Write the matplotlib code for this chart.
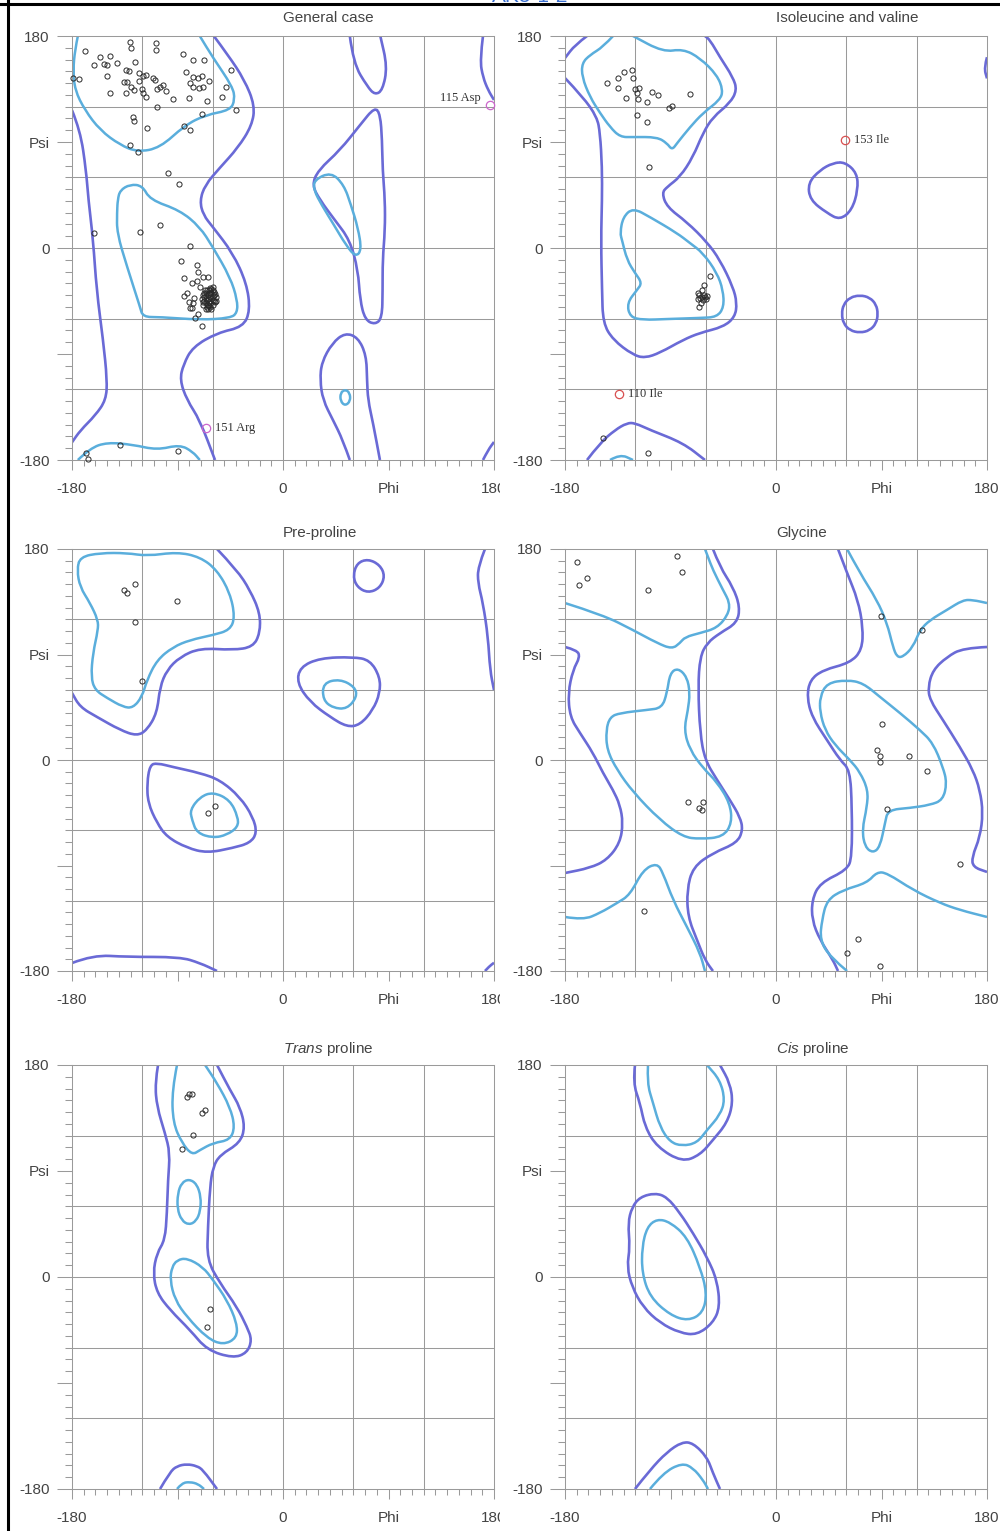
import numpy as np
import matplotlib
matplotlib.use("Agg")
import matplotlib.pyplot as plt
from matplotlib.path import Path
from matplotlib.patches import PathPatch
from matplotlib.lines import Line2D
from matplotlib.ticker import MultipleLocator
from matplotlib.transforms import Bbox, TransformedBbox

plt.rcParams['font.family'] = ['Liberation Sans', 'DejaVu Sans']
plt.rcParams['mathtext.fontset'] = 'custom'
plt.rcParams['mathtext.it'] = 'Liberation Sans:italic'
plt.rcParams['mathtext.rm'] = 'Liberation Sans'

# ---------------- data (phi, psi in degrees) ----------------
TITLES = ["General case", "Isoleucine and valine", "Pre-proline", "Glycine",
          r"$\mathit{Trans}$ proline", r"$\mathit{Cis}$ proline"]
X_TICKS = [-180, -90, 0, 90, 180]
X_LABELS = ["-180", "", "0", "Phi", "180"]
Y_TICKS = [-180, -90, 0, 90, 180]
Y_LABELS = ["-180", "", "0", "Psi", "180"]
GRID_VALUES = [-120, -60, 0, 60, 120]

# General case
GEN_OUT_A = [(-59,180),(-47,164),(-33,143),(-24,121),(-26.5,104),(-38.5,85),(-54,68),(-66.5,53.5),
             (-71,40),(-68,28),(-60,18),(-43,-4),(-31,-30),(-28,-53),(-34,-67),(-56,-72),(-77,-84),
             (-85,-99),(-88,-112),(-82,-129),(-71,-146),(-58,-180)]
GEN_OUT_B = [(-180,117),(-173,100),(-168,66),(-166,41),(-162,7),(-159,-36),(-153.5,-78),(-150,-112),
             (-151,-129),(-160,-142),(-173,-155),(-180,-165)]
GEN_OUT_LTOP = [(57,180),(60,157),(72,137),(78.5,130),(85,134),(89,154),(83,180)]
GEN_OUT_LALPHA = [(78.5,120),(65.7,104.4),(48.6,83),(30,66),(24.7,53.5),(31.5,40.8),(44,24),(57,6.8),
                  (64,-18.7),(65.7,-44),(70,-61),(78.5,-65),(84.5,-59.5),(85,-35.7),(85,-10),(87,15),
                  (87,40.8),(85,66),(84.5,92),(83,113),(78.5,120)]
GEN_OUT_LBOT = [(57,-180),(51,-163),(42.6,-146),(34,-129),(31.6,-112),(33,-97),(42,-80.7),(53,-72),
                (64,-76),(71,-91),(71.7,-112),(72.5,-129),(76.8,-148.6),(82.7,-180)]
GEN_OUT_RTOP = [(170.6,180),(168,159.6),(170.6,145),(175,134),(180,125.7)]
GEN_OUT_RBOT = [(170.6,-180),(175,-171.5),(180,-164.7)]
GEN_IN_BETA = [(-175,180),(-177.5,168),(-179,151),(-177.5,134),(-169,117),(-156,100),(-139,87.5),
               (-124,81.5),(-105,85),(-84,104),(-66,113),(-45,117),(-41,126),(-43,137),(-60,162),(-71,180)]
GEN_IN_ALPHA = [(-141,41),(-139,49),(-130.5,54),(-120,53),(-113.5,41),(-88,32),(-71,18),(-60,1),
                (-45,-25),(-39,-44),(-39,-55),(-45,-59.5),(-71,-61),(-105,-58.6),(-119.5,-58.6),
                (-122,-50),(-133,-16),(-141.6,12.7),(-141.6,30),(-141,41)]
GEN_IN_BOT = [(-175,-180),(-164.6,-170),(-150,-165),(-128,-167),(-107.5,-171.5),(-88,-167),(-77,-173),(-71,-180)]
GEN_IN_LALPHA = [(26.4,57.7),(41,64.5),(52,53.5),(58,36.5),(64,17),(67,-1.7),(62,-7.6),(53.7,2.5),
                 (43.5,19.5),(33,36.5),(26.4,49),(26.4,57.7)]
GEN_IN_SMALL = [(53,-120),(57,-123),(57.5,-130),(53,-134),(49,-130),(49,-123),(53,-120)]
GEN_DOTS = [(-169,167),(-179,144),(-174,143.5),(-130.5,175),(-129.7,170),(-108.3,174),(-108.3,168),
            (-156,162),(-147.6,163),(-152.7,156),(-150,155),(-161,155),(-141.6,157),(-126,158),(-150,146),
            (-134,151),(-131,150),(-123,148.6),(-119.4,146),(-117,146.6),(-111,144),(-109,143),(-135.6,141),
            (-133,141),(-129.7,136.7),(-123,142),(-120,135),(-119.4,131.6),(-117,128),(-107.5,135),
            (-105,136.7),(-102,138),(-100,133),(-147.6,131.6),(-134,131.6),(-127,134),(-85,164.7),
            (-76.8,159.6),(-67.4,159.6),(-82.8,149.4),(-76.8,145),(-72.5,144),(-69,146),(-63,142),(-79,140),
            (-76.8,136.7),(-71.7,136),(-68,136.7),(-48.6,136.7),(-44.4,151),(-93.8,126.5),(-80,127.4),
            (-64.8,124.8),(-52,128),(-107.5,120),(-40,117),(-128,111),(-69,113.8),(-127,108),(-116,102),
            (-84.5,103.6),(-79,100),(-130.5,87.5),(-124,81.5),(-98,63.7),(-88.7,54.3),
            (-161,12.7),(-122,13.6),(-105,19.5),(-79.3,1.7),(-87,-11),(-73.4,-14.4),(-84.5,-25.5),
            (-72.5,-20.4),(-68,-24.6),(-64,-24.6),(-77.6,-29.7),(-73.4,-28),(-82,-38),(-84.5,-40.7),
            (-70.8,-33),(-66.5,-35.6),(-62.3,-34),(-59.7,-33),(-76,-42.5),(-80,-45.8),(-76.8,-46.7),
            (-79.3,-51),(-77.6,-51),(-68,-45.8),(-72.5,-56),(-75,-59.4),(-69,-66),
            (-66,-38),(-64,-40),(-62,-42),(-60,-44),(-63,-46),(-65,-44),(-67,-42),(-61,-38),(-59,-40),
            (-58,-46),(-60,-48),(-62,-50),(-64,-48),(-66,-47),(-68,-40),(-63,-36),(-65,-50),(-61,-52),
            (-59,-37),(-57,-42),(-60,-36),(-66,-52),(-62,-45),(-64,-43),(-67,-45),
            (-65,-36),(-61,-35),(-58,-39),(-63,-39),(-67,-38),(-69,-43),(-60,-41),(-62,-47),(-59,-45),
            (-64,-52),(-66,-41),(-62,-38),(-57,-45),(-63,-49),(-68,-48),
            (-168,-174),(-166.4,-179),(-139,-167),(-89.6,-172)]
GEN_OUTLIERS = [(176.6,121.4,"115 Asp","left"),(-65.9,-152.8,"151 Arg","right")]

# Isoleucine and valine
ILE_OUT_A = [(-180,144.3),(-164.6,128.2),(-152.7,111.2),(-150.1,97.6),(-148.4,68.8),(-148.4,40.8),
             (-149.3,6.8),(-148.4,-35.7),(-147.6,-63.7),(-139,-78),(-122,-90.8),(-111.8,-93.4),(-99,-89),
             (-79.3,-78),(-64.8,-72),(-45,-67),(-35,-58.6),(-33.3,-46.7),(-36.7,-33),(-47.8,-10.2),
             (-58.9,5.1),(-76,22),(-93,34.8),(-97.3,46.7),(-93,51.8),(-81.9,60.3),(-70.8,77.3),
             (-62.3,97.6),(-53.8,111.2),(-39.3,123),(-33.3,134),(-36.7,145),(-47.8,162),(-56.3,176.6),
             (-60.6,180)]
ILE_OUT_B = [(-161.2,180),(-171.5,172.4),(-180,161.3)]
ILE_OUT_LBLOB = [(58.8,73),(69.1,63.7),(69.9,49.3),(64.8,32.3),(54.6,23.8),(43.5,29.7),(29,40.8),
                 (27.3,55.2),(37.5,66.2),(48.6,72.2),(58.8,73)]
ILE_OUT_CIRCLE = [(71.6,-40),(80,-42),(85.5,-48),(87,-56),(85.5,-64),(80,-70),(71.6,-72),(63,-70),
                  (57.5,-64),(56,-56),(57.5,-48),(63,-42),(71.6,-40)]
ILE_OUT_REDGE = [(180,162),(177.5,153),(180,144)]
ILE_OUT_BOT = [(-161.2,-180),(-150.1,-165.5),(-137.3,-154.5),(-127.1,-148.6),(-120.3,-148.6),
               (-107.5,-154.5),(-79.3,-165.5),(-60.6,-180)]
ILE_IN_BETA = [(-139,180),(-147.6,170.7),(-158.7,163.9),(-165.5,157),(-165.5,145.2),(-158.7,128.2),
               (-150.1,114.6),(-141.6,102.7),(-133,94.2),(-122,94.2),(-101.5,94.2),(-93,89),(-88.7,83.2),
               (-84.4,89),(-73.3,102.7),(-62.3,114.6),(-47.8,125.7),(-45.2,134),(-50.3,146.9),
               (-64.8,161.3),(-79.3,169),(-96.4,166.4),(-122,180)]
ILE_IN_ALPHA = [(-133,12.7),(-130.5,26.3),(-122,34),(-107.5,26.3),(-84.5,12.7),(-73.4,4.2),(-62.3,-4.2),
                (-50.3,-21.2),(-45.2,-35.7),(-44.4,-50.1),(-50.3,-58.6),(-64.8,-59.4),(-93,-60.3),
                (-113.5,-61.1),(-124.6,-58.6),(-127.1,-46.7),(-118.6,-35.7),(-114.3,-29.7),
                (-120.3,-21.2),(-127.1,-10.2),(-131.4,6.8),(-133,12.7)]
ILE_IN_BOT = [(-141.6,-180),(-133,-175),(-122,-180)]
ILE_DOTS = [(-144.2,140.1),(-134.8,144.3),(-134.8,135.9),(-129.7,149.4),(-122.8,151.1),(-122,144.3),
            (-128,127.4),(-120.3,135),(-116.9,135.9),(-118.6,131.6),(-117.7,126.5),(-110,124),
            (-105.8,132.5),(-100.7,130),(-91.3,118.9),(-88.7,120.6),(-73.4,130.8),(-118.6,112.9),
            (-110,107),(-108.3,68.8),
            (-56.3,-23.8),(-61.4,-31.4),(-63.1,-35.6),(-66.5,-38.2),(-65.7,-39.9),(-61.4,-39.9),
            (-58.9,-40.7),(-64.8,-42.4),(-66.5,-43.3),(-63.1,-41.6),(-60.6,-41.6),(-64,-46.7),
            (-65.7,-50.1),(-62.3,-44.1),(-59.7,-43.3),
            (-147.6,-161.3),(-109.2,-174)]
ILE_OUTLIERS = [(58.8,91.7,"153 Ile","right"),(-133.7,-124,"110 Ile","right")]

# Pre-proline
PRE_OUT_A = [(-56.3,180),(-39.3,162.1),(-28.2,145),(-19.6,125.4),(-19.6,108.3),(-25.6,96.4),(-42.7,93.8),
             (-70.8,95.5),(-87.9,87.9),(-99,76.8),(-105,62.3),(-107.5,40.1),(-116,25.6),(-124.6,20.5),
             (-139,25.6),(-158.7,36.7),(-173.2,45.2),(-180,57.2)]
PRE_OUT_ALPHA = [(-113.5,-4.3),(-107.5,-2.6),(-93.8,-6),(-70.8,-11.1),(-53.8,-17),(-36.7,-31.5),
                 (-25.6,-48.6),(-22.2,-62.3),(-28.2,-70.8),(-42.7,-75),(-64.8,-79.3),(-81.9,-75),
                 (-99,-65.7),(-107.5,-53.7),(-115.2,-36.7),(-116,-19.6),(-113.5,-4.3)]
PRE_OUT_BOT = [(-180,-173.2),(-162.1,-166.3),(-133.1,-168),(-87.9,-168),(-70.8,-173.2),(-56.3,-180)]
PRE_OUT_LALPHA = [(14.5,79.3),(31.6,87),(59.7,87.9),(74.2,85.3),(82.7,70.8),(82.7,57.2),(76.8,42.7),
                  (65.7,29.9),(54.6,28.2),(40.1,36.7),(23,49.5),(11.9,65.7),(14.5,79.3)]
PRE_OUT_CIRCLE = [(72.5,171.5),(82.7,166.4),(87,157),(82.7,146.7),(72.5,142.5),(63.1,147.6),(59.7,157),
                  (63.1,168),(72.5,171.5)]
PRE_OUT_REDGE = [(172.3,180),(166.3,164.6),(166.3,151),(170.6,133.9),(174.9,104.9),(176.6,76.8),(180,59.7)]
PRE_OUT_RBOT = [(172.3,-180),(176,-176),(180,-173)]
PRE_IN_BETA = [(-173.2,173.2),(-156.1,176.6),(-133.1,176.6),(-116,174),(-90.4,177.4),(-70.8,173.2),
               (-56.3,162.1),(-45.2,142.5),(-41,122),(-45.2,110.9),(-59.7,106.6),(-79.3,102.4),
               (-93.8,96.4),(-107.5,85.3),(-116,68.3),(-120.3,53.8),(-128,44.4),(-136.5,45.2),
               (-150.1,52.9),(-160.4,59.7),(-163.8,70.8),(-162.1,91.3),(-157.8,110.9),(-157.8,119.4),
               (-164.6,133.9),(-173.2,147.6),(-175.7,162.1),(-173.2,173.2)]
PRE_IN_ALPHA = [(-79.3,-42.6),(-70.8,-31.5),(-59.7,-27.3),(-45.2,-34.1),(-38.4,-48.6),(-38.4,-57.1),
                (-47.8,-63.9),(-59.7,-66.5),(-73.4,-62.3),(-77.6,-51.2),(-79.3,-42.6)]
PRE_IN_LALPHA = [(34.1,65.7),(48.6,69.1),(61.4,62.3),(63.1,53.8),(54.6,43.5),(42.6,44.4),(34.1,51.2),(34.1,65.7)]
PRE_DOTS = [(-135.6,145),(-133.1,142.5),(-126.3,150.1),(-90.4,135.6),(-126.3,117.7),(-120.3,67.4),
            (-64,-45.2),(-58,-39.2)]

# Glycine
GLY_OUT_A = [(-53.8,180),(-47.8,164.6),(-36.7,147.6),(-30.7,130.5),(-33.3,116.9),(-47.8,108.3),
             (-58.9,99.8),(-64.8,87.9),(-66.5,62.3),(-64.8,23),(-60.6,0),(-50.3,-17),(-39.3,-34.1),
             (-30.7,-48.6),(-28.2,-59.7),(-33.3,-70.8),(-53.8,-79.3),(-70.8,-91.3),(-76,-110.9),
             (-75.1,-133.9),(-67.4,-153.5),(-60.6,-170.6),(-53.8,-180)]
GLY_OUT_B = [(-180,96.4),(-169.8,93.8),(-167.2,87.9),(-173.2,76.8),(-177.4,57.2),(-175.7,36.7),
             (-167.2,23),(-156.1,6),(-147.6,-11.1),(-139,-25.6),(-133.1,-38.4),(-130.5,-53.7),
             (-133.1,-70.8),(-144.2,-85.3),(-158.7,-92.1),(-180,-96.4)]
GLY_OUT_C = [(52.9,180),(60.6,159.5),(69.9,136.5),(74.2,113.5),(73.4,93.8),(63.1,82.8),(40.1,76.8),
             (29,68.3),(26.4,53.8),(30.7,36.7),(43.5,17),(54.6,0),(63.1,-8.5),(64.8,-40.1),(64.8,-82.7),
             (60.6,-93.8),(37.5,-104.9),(30.7,-119.4),(30.7,-136.5),(37.5,-153.5),(48.6,-170.6),(52.9,-180)]
GLY_OUT_D = [(180,96.4),(159.5,95.5),(145.8,87.9),(133.9,76.8),(129.7,62.3),(131.3,51.2),(142.4,34.1),
             (156.9,11.1),(168,-8.5),(174,-25.6),(176.6,-45.2),(174,-65.7),(167.2,-82.7),(168,-91.3),
             (180,-95.5)]
GLY_IN_A = [(-180,133.9),(-147.6,123.7),(-122,110.9),(-101.5,99.8),(-88.7,94.7),(-81.9,99.8),
            (-77.6,104.9),(-64.8,108.3),(-50.3,112.6),(-41,123.7),(-39.3,133.9),(-45.2,145),
            (-53.8,162.1),(-58,173.2),(-60.6,180)]
GLY_IN_B = [(-141.6,36.7),(-133.1,40.1),(-110,42.7),(-97.3,44.4),(-93,57.2),(-90.4,74.2),(-83.6,78.5),
            (-75.9,70.8),(-73.4,57.2),(-75.1,42.7),(-78.5,25.6),(-73.4,8.5),(-62.3,-6.8),(-50.3,-18.8),
            (-39.3,-36.7),(-37.5,-53.7),(-45.2,-65.7),(-64.8,-67.4),(-79.3,-65.7),(-99,-51.2),
            (-122,-27.3),(-135.6,-8.5),(-144.2,8.5),(-145,25.6),(-141.6,36.7)]
GLY_IN_C = [(-180,-133.9),(-164.6,-136.5),(-150.1,-130.5),(-135.6,-122),(-124.6,-115.1),(-113.5,-93.8),
            (-101.5,-87.9),(-96.4,-96.4),(-87.9,-119.4),(-75.9,-142.5),(-64.8,-164.6),(-60.6,-180)]
GLY_IN_D = [(60.6,180),(71.6,159.5),(86.1,136.5),(94.7,116.9),(99.8,96.4),(103.2,87.9),(108.3,87.9),
            (116.9,96.4),(122.8,110.9),(131.3,119.4),(145.8,128),(159.5,136.5),(168,136.5),(180,133.9)]
GLY_IN_E = [(37.5,53.8),(43.5,65.7),(60.6,68.3),(74.2,65.7),(88.7,53.8),(105.8,40.1),(122.8,25.6),
            (133.9,14.5),(142.4,-6),(145.8,-19.6),(142.4,-34.1),(131.3,-38.4),(114.3,-40.9),(95.5,-42.6),
            (93,-53.7),(88.7,-74.2),(82.7,-79.3),(75.9,-74.2),(73.4,-59.7),(77.6,-40.1),(78.5,-25.6),
            (71.6,-10.2),(63.1,0),(50.3,12.8),(41.8,25.6),(37.5,41),(37.5,53.8)]
GLY_IN_F = [(60.6,-180),(46.1,-168),(37.5,-153.5),(39.2,-136.5),(43.5,-119.4),(57.1,-110.9),
            (77.6,-104.9),(86.1,-95.5),(94.7,-96.4),(116.9,-110.9),(139.9,-122),(156.9,-128),(180,-133.9)]
GLY_DOTS = [(-169.8,168.9),(-161.2,155.3),(-168,149.3),(-109.2,145),(-84.5,174),(-80.2,160.4),
            (89.5,122.8),(124.5,110.9),(90.4,30.7),(86.1,8.5),(88.7,3.4),(88.7,-1.7),(113.4,3.4),
            (128.8,-9.4),(-75.1,-35.8),(-62.3,-35.8),(-65.7,-40.9),(-63.1,-42.6),(94.7,-41.8),
            (156.9,-88.7),(-112.6,-128.8),(69.9,-152.7),(60.6,-164.6),(88.7,-175.7)]

# Trans proline
TRA_OUT_A = [(-106.6,180),(-109.2,164.7),(-107.5,144.3),(-100.7,122.3),(-96.4,105.3),(-98.1,82.4),
             (-99,54.3),(-100.7,31.4),(-107.5,20.4),(-110.9,3.4),(-107.5,-13.6),(-96.4,-28),(-79.3,-45),
             (-64.8,-62),(-42.7,-68.8),(-30.7,-64.5),(-26.5,-53.5),(-30.7,-42.4),(-39.3,-25.5),
             (-53.8,-5.1),(-64.8,14.4),(-64,42.5),(-62.3,76.4),(-59.7,93.4),(-53.8,103.6),(-36.7,113.8),
             (-32.4,127.4),(-36.7,144.3),(-45.2,158.8),(-56.3,180)]
TRA_OUT_BOT = [(-104.9,-180),(-96.4,-165.5),(-90.4,-160.5),(-81.9,-158.8),(-73.4,-160.5),(-68.3,-163.8),
               (-56.3,-180)]
TRA_IN_TOP = [(-90.4,180),(-94.7,158.8),(-93.8,130.8),(-86.2,113.8),(-77.6,103.6),(-70.8,107.8),
              (-59.7,113.8),(-45.2,116.3),(-41,127.4),(-45.2,144.3),(-56.3,164.7),(-66.5,180)]
TRA_IN_MID = [(-80.2,83.2),(-73.5,79),(-70,68),(-70.5,56),(-74,47.5),(-80.2,44.2),(-86.5,48),(-90.2,58),
              (-89.8,71),(-86.5,80),(-80.2,83.2)]
TRA_IN_LOW = [(-90.4,14.4),(-81.9,16.1),(-68.3,8.5),(-59.7,-2.5),(-47.8,-19.5),(-39.3,-39),(-39.3,-51.8),
              (-51.2,-57.7),(-64.8,-51.8),(-81.9,-34),(-92.1,-19.5),(-96.4,-2.5),(-94.7,8.5),(-90.4,14.4)]
TRA_IN_BOT = [(-90.4,-180),(-86.2,-174.9),(-79.3,-174),(-72.5,-175.7),(-67.4,-180)]
TRA_DOTS = [(-81.9,152.8),(-80.2,155.4),(-77.6,155.4),(-69.1,139.2),(-66.5,141.8),(-76.8,120.6),
            (-86.2,108.7),(-62.3,-27.2),(-64.8,-42.4)]

# Cis proline
CIS_OUT_TOP = [(-120.3,180),(-122,164.7),(-116,147.7),(-111.8,127.4),(-101.5,110.4),(-80.2,97.6),
               (-64.8,103.6),(-53.8,116.3),(-41.8,130.8),(-36.7,147.7),(-39.3,164.7),(-47.8,180)]
CIS_OUT_MID = [(-103.2,71.3),(-93,67.9),(-81.9,54.3),(-70.8,37.3),(-58.9,17),(-50.3,-2.5),(-47.8,-25.5),
               (-53.8,-39),(-67.4,-49.2),(-81.9,-47.5),(-99,-39),(-113.5,-25.5),(-122.8,-8.5),
               (-127.1,8.5),(-124.6,25.5),(-126.3,45.9),(-122.8,59.4),(-116,67.9),(-103.2,71.3)]
CIS_OUT_BOT = [(-120.3,-180),(-107.5,-163.8),(-93,-148.6),(-80.2,-140.1),(-70.8,-140.9),(-58.9,-152.8),
               (-53.8,-166.4),(-47.8,-180)]
CIS_IN_TOP = [(-109.2,180),(-110,164.7),(-104.9,147.7),(-99,127.4),(-90.4,114.6),(-80.2,111.2),
              (-67.4,113.8),(-58.9,124.8),(-47.8,137.5),(-43.5,150.3),(-47.8,167.3),(-58.9,180)]
CIS_IN_MID = [(-101.5,49.3),(-90.4,46.7),(-75.9,34),(-64.8,8.5),(-58.9,-13.6),(-62.3,-30.6),(-75.1,-37.3),
              (-90.4,-32.3),(-107.5,-17),(-114.3,3.4),(-114.3,25.5),(-110,42.5),(-101.5,49.3)]
CIS_IN_BOT = [(-107.5,-180),(-96.4,-166.4),(-80.2,-157.9),(-70.8,-162.1),(-62.3,-172.3),(-58,-180)]

PANELS = [
    dict(title=TITLES[0], outer=[GEN_OUT_A, GEN_OUT_B, GEN_OUT_LTOP, GEN_OUT_LALPHA, GEN_OUT_LBOT, GEN_OUT_RTOP, GEN_OUT_RBOT],
         inner=[GEN_IN_BETA, GEN_IN_ALPHA, GEN_IN_BOT, GEN_IN_LALPHA, GEN_IN_SMALL], dots=GEN_DOTS,
         outliers=GEN_OUTLIERS, ocolor='#cc66cc'),
    dict(title=TITLES[1], outer=[ILE_OUT_A, ILE_OUT_B, ILE_OUT_LBLOB, ILE_OUT_CIRCLE, ILE_OUT_REDGE, ILE_OUT_BOT],
         inner=[ILE_IN_BETA, ILE_IN_ALPHA, ILE_IN_BOT], dots=ILE_DOTS, outliers=ILE_OUTLIERS, ocolor='#d85050'),
    dict(title=TITLES[2], outer=[PRE_OUT_A, PRE_OUT_ALPHA, PRE_OUT_BOT, PRE_OUT_LALPHA, PRE_OUT_CIRCLE, PRE_OUT_REDGE, PRE_OUT_RBOT],
         inner=[PRE_IN_BETA, PRE_IN_ALPHA, PRE_IN_LALPHA], dots=PRE_DOTS, outliers=[], ocolor=None),
    dict(title=TITLES[3], outer=[GLY_OUT_A, GLY_OUT_B, GLY_OUT_C, GLY_OUT_D],
         inner=[GLY_IN_A, GLY_IN_B, GLY_IN_C, GLY_IN_D, GLY_IN_E, GLY_IN_F], dots=GLY_DOTS, outliers=[], ocolor=None),
    dict(title=TITLES[4], outer=[TRA_OUT_A, TRA_OUT_BOT],
         inner=[TRA_IN_TOP, TRA_IN_MID, TRA_IN_LOW, TRA_IN_BOT], dots=TRA_DOTS, outliers=[], ocolor=None),
    dict(title=TITLES[5], outer=[CIS_OUT_TOP, CIS_OUT_MID, CIS_OUT_BOT],
         inner=[CIS_IN_TOP, CIS_IN_MID, CIS_IN_BOT], dots=[], outliers=[], ocolor=None),
]

# ---------------- styling ----------------
OUTER_COLOR = '#6a6ad6'
INNER_COLOR = '#5aaedc'
GRID_COLOR = '#9a9a9a'
TEXT_COLOR = '#444444'


def smooth_path(pts):
    pts = np.asarray(pts, float)
    closed = len(pts) > 3 and np.allclose(pts[0], pts[-1])
    if closed:
        pts = pts[:-1]
        mids = (pts + np.roll(pts, -1, axis=0)) / 2
        verts = [mids[-1]]
        codes = [Path.MOVETO]
        for i in range(len(pts)):
            verts += [pts[i], mids[i]]
            codes += [Path.CURVE3, Path.CURVE3]
    else:
        verts = [pts[0]]
        codes = [Path.MOVETO]
        for i in range(1, len(pts) - 1):
            verts += [pts[i], (pts[i] + pts[i + 1]) / 2]
            codes += [Path.CURVE3, Path.CURVE3]
        verts.append(pts[-1])
        codes.append(Path.LINETO)
    return Path(np.array(verts), codes)


fig = plt.figure(figsize=(10, 15.31), dpi=100)
W, H = 1000.0, 1531.0
col_left = [72, 565]
row_top = [36, 549, 1065]
row_h = [424, 422, 424]
pw = 422

for k, p in enumerate(PANELS):
    r, c = divmod(k, 2)
    ax = fig.add_axes([col_left[c] / W, 1 - (row_top[r] + row_h[r]) / H, pw / W, row_h[r] / H])
    ax.set_xlim(-180, 180)
    ax.set_ylim(-180, 180)
    for v in GRID_VALUES:
        ax.axvline(v, color=GRID_COLOR, lw=0.75, zorder=0)
        ax.axhline(v, color=GRID_COLOR, lw=0.75, zorder=0)
    for s in ax.spines.values():
        s.set_color(GRID_COLOR)
        s.set_linewidth(0.75)
    ax.set_xticks(X_TICKS)
    ax.set_xticklabels(X_LABELS)
    ax.set_yticks(Y_TICKS)
    ax.set_yticklabels(Y_LABELS)
    ax.xaxis.set_minor_locator(MultipleLocator(10))
    ax.yaxis.set_minor_locator(MultipleLocator(10))
    ax.tick_params(axis='x', which='major', length=7.5, width=0.75, color=GRID_COLOR, pad=8,
                   labelsize=11, labelcolor=TEXT_COLOR)
    ax.tick_params(axis='x', which='minor', length=4.3, width=0.75, color=GRID_COLOR)
    ax.tick_params(axis='y', which='major', length=11, width=0.75, color=GRID_COLOR, pad=5,
                   labelsize=11, labelcolor=TEXT_COLOR)
    ax.tick_params(axis='y', which='minor', length=5, width=0.75, color=GRID_COLOR)

    for cont in p['outer']:
        ax.add_patch(PathPatch(smooth_path(cont), fill=False, edgecolor=OUTER_COLOR, lw=1.9,
                               capstyle='butt', joinstyle='round', zorder=2))
    for cont in p['inner']:
        ax.add_patch(PathPatch(smooth_path(cont), fill=False, edgecolor=INNER_COLOR, lw=1.8,
                               capstyle='butt', joinstyle='round', zorder=2))
    if p['dots']:
        d = np.array(p['dots'])
        ax.plot(d[:, 0], d[:, 1], 'o', mfc='none', mec='#2a2a2a', ms=3.7, mew=0.7, zorder=3, clip_on=False)
    for (phi, psi, lab, side) in p['outliers']:
        ax.plot([phi], [psi], 'o', mfc='none', mec=p['ocolor'], ms=6, mew=0.9, zorder=4, clip_on=False)
        if side == 'left':
            ax.annotate(lab, (phi, psi), xytext=(-7, 5), textcoords='offset points', ha='right',
                        va='center', fontsize=9, family=['Liberation Serif'], color='#333333')
        else:
            ax.annotate(lab, (phi, psi), xytext=(6.5, 0), textcoords='offset points', ha='left',
                        va='center', fontsize=9, family=['Liberation Serif'], color='#333333')

    ax.text(0.5, 1 + (18 if r == 0 else 16) / row_h[r], p['title'], transform=ax.transAxes,
            ha='left', va='center', fontsize=11, color=TEXT_COLOR)

    if c == 0:
        clip = TransformedBbox(Bbox([[0, 0], [0.5, 1]]), fig.transFigure)
        for lbl in ax.get_xticklabels():
            lbl.set_clip_box(clip)
            lbl.set_clip_on(True)

# frame lines and clipped header text
fig.add_artist(Line2D([7.5 / W, 7.5 / W], [0, 1], transform=fig.transFigure, color='black', lw=2.2))
fig.add_artist(Line2D([0, 1], [1 - 3.5 / H, 1 - 3.5 / H], transform=fig.transFigure, color='black', lw=2.2))
fig.text(530 / W, 1 - 2.5 / H, 'AK5-1-2', color='#3a6fd0', fontsize=15, ha='center', va='baseline')

fig.savefig('out.png', dpi=100)
